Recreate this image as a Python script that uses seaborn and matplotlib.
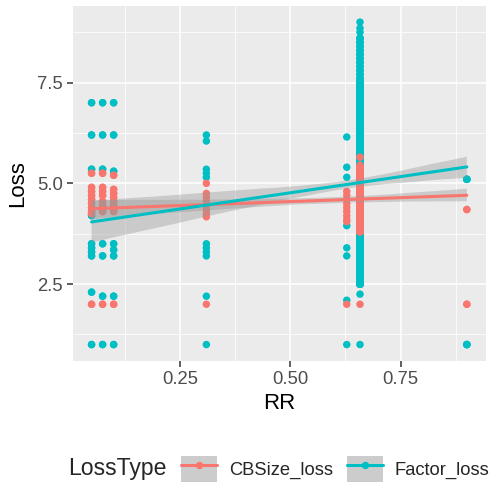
import numpy as np
import pandas as pd
import matplotlib
matplotlib.use("Agg")
import matplotlib.pyplot as plt
import seaborn as sns
from matplotlib.lines import Line2D
from matplotlib.patches import Patch
from matplotlib.legend_handler import HandlerTuple
from matplotlib.collections import PolyCollection

# ---------------- data ----------------
loss_types = ["CBSize_loss", "Factor_loss"]
palette = {"CBSize_loss": "#F8766D", "Factor_loss": "#00BFC4"}

rr_levels = [0.05, 0.075, 0.10, 0.31, 0.628, 0.658, 0.90]
factor_repeat = [2, 2, 2, 1, 1, 1, 4]
cbsize_repeat = [2, 2, 2, 1, 1, 1, 2]

factor_by_rr = [
    [7.0, 6.2, 5.35, 4.2, 3.5, 3.4, 3.3, 3.2, 2.3, 1.0],
    [7.0, 6.2, 5.35, 3.5, 3.2, 2.2, 1.0],
    [7.0, 6.2, 5.3, 3.5, 3.35, 3.2, 2.2, 1.0],
    [6.2, 6.05, 5.35, 5.25, 5.15, 3.5, 3.4, 3.3, 3.2, 2.2, 1.0],
    [6.15, 5.4, 5.15, 3.95, 3.4, 3.2, 2.1, 1.0],
    [2.25, 1.0],
    [5.1, 1.0],
]
cbsize_by_rr = [
    [5.25, 4.9, 4.8, 4.7, 4.6, 4.5, 4.4, 4.3, 4.25, 2.0],
    [5.25, 4.9, 4.8, 4.7, 4.55, 4.45, 4.35, 4.3, 2.0],
    [5.2, 4.85, 4.75, 4.65, 4.55, 4.45, 4.35, 4.3, 2.0],
    [5.0, 4.75, 4.65, 4.55, 4.45, 4.35, 4.25, 4.17, 2.0],
    [4.8, 4.7, 4.6, 4.5, 4.4, 4.3, 4.2, 4.1, 4.05, 2.0],
    [5.65, 5.45, 2.0],
    [4.35, 2.0],
]

# dense column at RR = 0.658 (values and how many observations sit on each)
col_rr = 0.658
factor_col_vals = [2.5, 2.6, 2.7, 2.8, 2.9, 3.0, 3.1, 3.2, 3.3, 3.4, 3.5, 3.6, 3.7, 3.8, 3.9,
                   4.0, 4.1, 4.2, 4.3, 4.4, 4.5, 4.6, 4.7, 4.8, 4.9, 5.0, 5.1, 5.2, 5.3, 5.4,
                   5.5, 5.6, 5.7, 5.8, 5.9, 6.0, 6.1, 6.2, 6.3, 6.4, 6.5, 6.6, 6.7, 6.8, 6.9,
                   7.0, 7.1, 7.2, 7.3, 7.4, 7.5, 7.6, 7.7, 7.8, 7.9, 8.0, 8.1, 8.2, 8.3, 8.4,
                   8.5, 8.6, 8.75, 8.85, 9.0]
factor_col_counts = [13, 13, 13, 13, 13, 13, 13, 13, 13, 13, 13, 13, 13, 13, 13,
                     20, 20, 20, 20, 20, 20, 20, 20, 20, 20, 20, 20, 20, 20, 20,
                     20, 20, 20, 20, 20, 20, 11, 11, 11, 11, 11, 11, 11, 11, 11,
                     11, 11, 11, 11, 11, 11, 3, 3, 3, 3, 3, 3, 3, 3, 3,
                     3, 3, 1, 1, 1]
cbsize_col_vals = [3.8, 3.9, 4.0, 4.1, 4.2, 4.3, 4.4, 4.5, 4.6, 4.7, 4.8, 4.9, 5.0, 5.1,
                   5.2, 5.3, 5.4]
cbsize_col_counts = [6, 6, 6, 12, 12, 12, 12, 16, 16, 16, 16, 16, 16, 12, 12, 12, 12]

rows = []
for lt, groups, reps, cvals, ccnts in [
        ("Factor_loss", factor_by_rr, factor_repeat, factor_col_vals, factor_col_counts),
        ("CBSize_loss", cbsize_by_rr, cbsize_repeat, cbsize_col_vals, cbsize_col_counts)]:
    for rr, vals, rep in zip(rr_levels, groups, reps):
        for _ in range(rep):
            for v in vals:
                rows.append((rr, v, lt))
    for v, c in zip(cvals, ccnts):
        for _ in range(c):
            rows.append((col_rr, v, lt))
df = pd.DataFrame(rows, columns=["RR", "Loss", "LossType"])

# ---------------- style ----------------
sns.set_theme(style="darkgrid", rc={"axes.facecolor": "#EBEBEB", "grid.color": "white"})
plt.rcParams["font.family"] = ["Liberation Sans", "DejaVu Sans"]

fig = plt.figure(figsize=(4.92, 4.84), dpi=100)
ax = fig.add_axes([0.148, 0.2548, 0.839, 0.7328])

sns.scatterplot(data=df, x="RR", y="Loss", hue="LossType", palette=palette,
                s=29, linewidth=0, legend=False, ax=ax, zorder=3)

for lt in loss_types:
    sub = df[df.LossType == lt]
    sns.regplot(data=sub, x="RR", y="Loss", scatter=False, color=palette[lt], ci=95,
                n_boot=1000, seed=1, truncate=True, ax=ax,
                line_kws=dict(lw=2.2, zorder=5))
# recolour confidence bands grey like ggplot
for coll in ax.collections:
    if isinstance(coll, PolyCollection):
        coll.set_facecolor("#999999")
        coll.set_alpha(0.4)
        coll.set_edgecolor("none")
        coll.set_zorder(4)

ax.set_xlim(0.0075, 0.9425)
ax.set_ylim(0.6, 9.4)
ax.set_xticks([0.25, 0.5, 0.75])
ax.set_xticklabels(["0.25", "0.50", "0.75"])
ax.set_yticks([2.5, 5.0, 7.5])
ax.set_yticklabels(["2.5", "5.0", "7.5"])
ax.set_xticks([0.125, 0.375, 0.625, 0.875], minor=True)
ax.set_yticks([1.25, 3.75, 6.25, 8.75], minor=True)
ax.grid(which="major", color="white", lw=1.1)
ax.grid(which="minor", color="white", lw=0.55)
ax.set_axisbelow(True)
for s in ax.spines.values():
    s.set_visible(False)
ax.tick_params(which="major", length=4.3, width=1.1, color="#333333",
               labelcolor="#4D4D4D", labelsize=13.3, pad=3, bottom=True, left=True)
ax.tick_params(which="minor", length=0)
ax.set_xlabel("RR", fontsize=16, color="black", labelpad=4)
ax.set_ylabel("Loss", fontsize=16, color="black", labelpad=6)

# legend
handles = []
for lt in loss_types:
    handles.append((Patch(facecolor="#CCCCCC", edgecolor="none"),
                    Line2D([], [], color=palette[lt], lw=2.2, marker="o", markersize=5.3,
                           markeredgewidth=0)))
fig.text(68 / 492, 1 - 469 / 484, "LossType", fontsize=16.6, va="center", ha="left")
fig.legend(handles, loss_types, handler_map={tuple: HandlerTuple(ndivide=1, pad=0)},
           loc="center left", bbox_to_anchor=(181 / 492, 1 - 469 / 484), ncol=2,
           frameon=False, fontsize=13.2, handlelength=1.96, handleheight=1.85,
           handletextpad=0.65, columnspacing=0.75, borderpad=0, borderaxespad=0)

fig.savefig("out.png", dpi=100)
